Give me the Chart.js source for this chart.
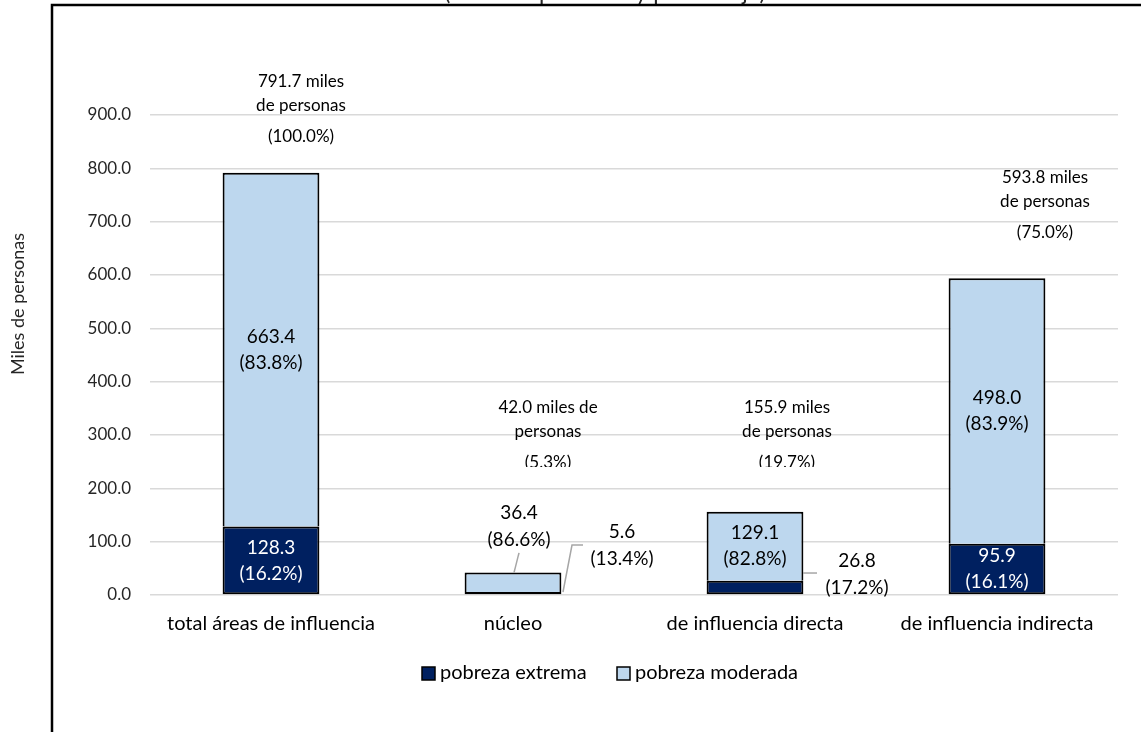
<!DOCTYPE html>
<html>
<head>
<meta charset="utf-8">
<script src="https://cdn.jsdelivr.net/npm/chart.js@4"></script>
<style>
  html, body { margin: 0; padding: 0; background: #fff; }
  #wrap { width: 1141px; height: 732px; position: relative; }
</style>
</head>
<body>
<div id="wrap"><canvas id="grafico"></canvas></div>
<script>
// datos (miles de personas)
const categorias = ['total áreas de influencia', 'núcleo', 'de influencia directa', 'de influencia indirecta'];
const pobrezaExtrema = [128.3, 5.6, 26.8, 95.9];
const pobrezaModerada = [663.4, 36.4, 129.1, 498.0];
const pctExtrema = ['16.2%', '13.4%', '17.2%', '16.1%'];
const pctModerada = ['83.8%', '86.6%', '82.8%', '83.9%'];
const totales = ['791.7', '42.0', '155.9', '593.8'];
const pctTotales = ['100.0%', '5.3%', '19.7%', '75.0%'];
const ticksY = [0, 100, 200, 300, 400, 500, 600, 700, 800, 900];

const FUENTE = 'Lato, "Noto Sans", sans-serif';
const AZUL_OSCURO = '#002060';
const AZUL_CLARO = '#BDD7EE';

// colocación manual de etiquetas (como en el original de Excel)
// dx en px desde el centro de la categoría, v en unidades del eje y
const etiquetaTotal = [
  { dx: 30, v: 962, corte: false, partir: 'miles' },
  { dx: 35, v: 350.6, corte: true, partir: 'de' },
  { dx: 32, v: 350.6, corte: true, partir: 'miles' },
  { dx: 48, v: 782, corte: false, partir: 'miles' }
];
const fueraModerada = [null, { dx: 6, v: 127, guia: [[6, 79], [1, 42]] }, null, null];
const fueraExtrema = [
  null,
  { dx: 109, v: 93, guia: [[50, 5.6], [59, 93.7], [70, 93.7]] },
  { dx: 102, v: 38, guia: [[48, 41.2], [62, 41.2]] },
  null
];

function textoLineas(ctx, lineas, x, y, salto) {
  lineas.forEach((t, k) => ctx.fillText(t, x, y + k * salto));
}

const pluginEtiquetas = {
  id: 'etiquetas',
  afterDraw(chart) {
    const ctx = chart.ctx;
    const xs = chart.scales.x;
    const ys = chart.scales.y;
    const metaE = chart.getDatasetMeta(0);
    const metaM = chart.getDatasetMeta(1);
    ctx.save();

    // guías
    ctx.strokeStyle = '#A6A6A6';
    ctx.lineWidth = 1.5;
    const guia = (i, pts) => {
      ctx.beginPath();
      pts.forEach((p, k) => {
        const px = xs.getPixelForValue(i) + p[0];
        const py = ys.getPixelForValue(p[1]);
        k ? ctx.lineTo(px, py) : ctx.moveTo(px, py);
      });
      ctx.stroke();
    };

    ctx.textAlign = 'center';
    ctx.textBaseline = 'middle';
    categorias.forEach((c, i) => {
      const cx = xs.getPixelForValue(i);
      ctx.font = '19px ' + FUENTE;
      // moderada
      const m = metaM.data[i];
      const lm = [pobrezaModerada[i].toFixed(1), '(' + pctModerada[i] + ')'];
      ctx.fillStyle = '#000';
      if (fueraModerada[i]) {
        const f = fueraModerada[i];
        textoLineas(ctx, lm, cx + f.dx, ys.getPixelForValue(f.v) - 14, 27);
        guia(i, f.guia);
      } else {
        textoLineas(ctx, lm, m.x, (m.y + m.base) / 2 - 13, 26);
      }
      // extrema
      const e = metaE.data[i];
      const le = [pobrezaExtrema[i].toFixed(1), '(' + pctExtrema[i] + ')'];
      if (fueraExtrema[i]) {
        const f = fueraExtrema[i];
        ctx.fillStyle = '#000';
        textoLineas(ctx, le, cx + f.dx, ys.getPixelForValue(f.v) - 14, 27);
        guia(i, f.guia);
      } else {
        ctx.fillStyle = '#fff';
        textoLineas(ctx, le, e.x, (e.y + e.base) / 2 - 13, 26);
      }
      // total
      const t = etiquetaTotal[i];
      const tx = cx + t.dx;
      const ty = ys.getPixelForValue(t.v);
      const lt = t.partir === 'de'
        ? [totales[i] + ' miles de', 'personas']
        : [totales[i] + ' miles', 'de personas'];
      ctx.font = '17px ' + FUENTE;
      ctx.fillStyle = '#000';
      textoLineas(ctx, lt, tx, ty, 24);
      ctx.save();
      if (t.corte) {
        ctx.beginPath();
        ctx.rect(tx - 70, ty + 36, 140, 23);
        ctx.clip();
      }
      ctx.fillText('(' + pctTotales[i] + ')', tx, ty + 55);
      ctx.restore();
    });

    // leyenda
    ctx.font = '20px ' + FUENTE;
    ctx.textAlign = 'left';
    const ly = 673;
    [[AZUL_OSCURO, 'pobreza extrema', 422], [AZUL_CLARO, 'pobreza moderada', 617]].forEach(([col, txt, lx]) => {
      ctx.fillStyle = col;
      ctx.fillRect(lx, ly - 6, 13, 13);
      ctx.strokeStyle = '#000';
      ctx.lineWidth = 1.5;
      ctx.strokeRect(lx, ly - 6, 13, 13);
      ctx.fillStyle = '#000';
      ctx.fillText(txt, lx + 18, ly);
    });

    // título del eje y (fuera del marco)
    ctx.save();
    ctx.translate(18, 304);
    ctx.rotate(-Math.PI / 2);
    ctx.textAlign = 'center';
    ctx.font = '18px ' + FUENTE;
    ctx.fillStyle = '#262626';
    ctx.fillText('Miles de personas', 0, 0);
    ctx.restore();

    // título cortado arriba
    ctx.textAlign = 'center';
    ctx.textBaseline = 'alphabetic';
    ctx.font = '23px ' + FUENTE;
    ctx.fillStyle = '#262626';
    ctx.fillText('(miles de personas y porcentaje)', 605, 0);

    // marco
    ctx.strokeStyle = '#000';
    ctx.lineWidth = 2.5;
    ctx.strokeRect(52, 5, 1200, 900);
    ctx.restore();
  }
};

new Chart(document.getElementById('grafico'), {
  type: 'bar',
  data: {
    labels: categorias,
    datasets: [
      {
        label: 'pobreza extrema',
        data: pobrezaExtrema,
        backgroundColor: AZUL_OSCURO,
        borderColor: '#000',
        borderWidth: 2,
        borderSkipped: false
      },
      {
        label: 'pobreza moderada',
        data: pobrezaModerada,
        backgroundColor: AZUL_CLARO,
        borderColor: '#000',
        borderWidth: 2,
        borderSkipped: 'bottom'
      }
    ]
  },
  options: {
    responsive: true,
    maintainAspectRatio: false,
    animation: false,
    events: [],
    layout: { padding: { top: 115, right: 23, left: 0, bottom: 0 } },
    datasets: { bar: { categoryPercentage: 0.4, barPercentage: 1 } },
    plugins: {
      legend: { display: false },
      tooltip: { enabled: false },
      title: { display: false }
    },
    scales: {
      x: {
        stacked: true,
        grid: { display: false },
        border: { display: false },
        ticks: { color: '#000', font: { family: FUENTE, size: 20 }, padding: 9, maxRotation: 0 },
        afterFit(s) { s.height = 137; }
      },
      y: {
        stacked: true,
        min: 0,
        max: 900,
        afterBuildTicks(s) { s.ticks = ticksY.map(v => ({ value: v })); },
        grid: { color: '#D9D9D9', lineWidth: 1.5, drawTicks: false },
        border: { display: false },
        ticks: {
          color: '#262626',
          font: { family: FUENTE, size: 17 },
          padding: 19,
          callback: v => v.toFixed(1)
        },
        afterFit(s) { s.width = 150; }
      }
    }
  },
  plugins: [pluginEtiquetas]
});
</script>
</body>
</html>
